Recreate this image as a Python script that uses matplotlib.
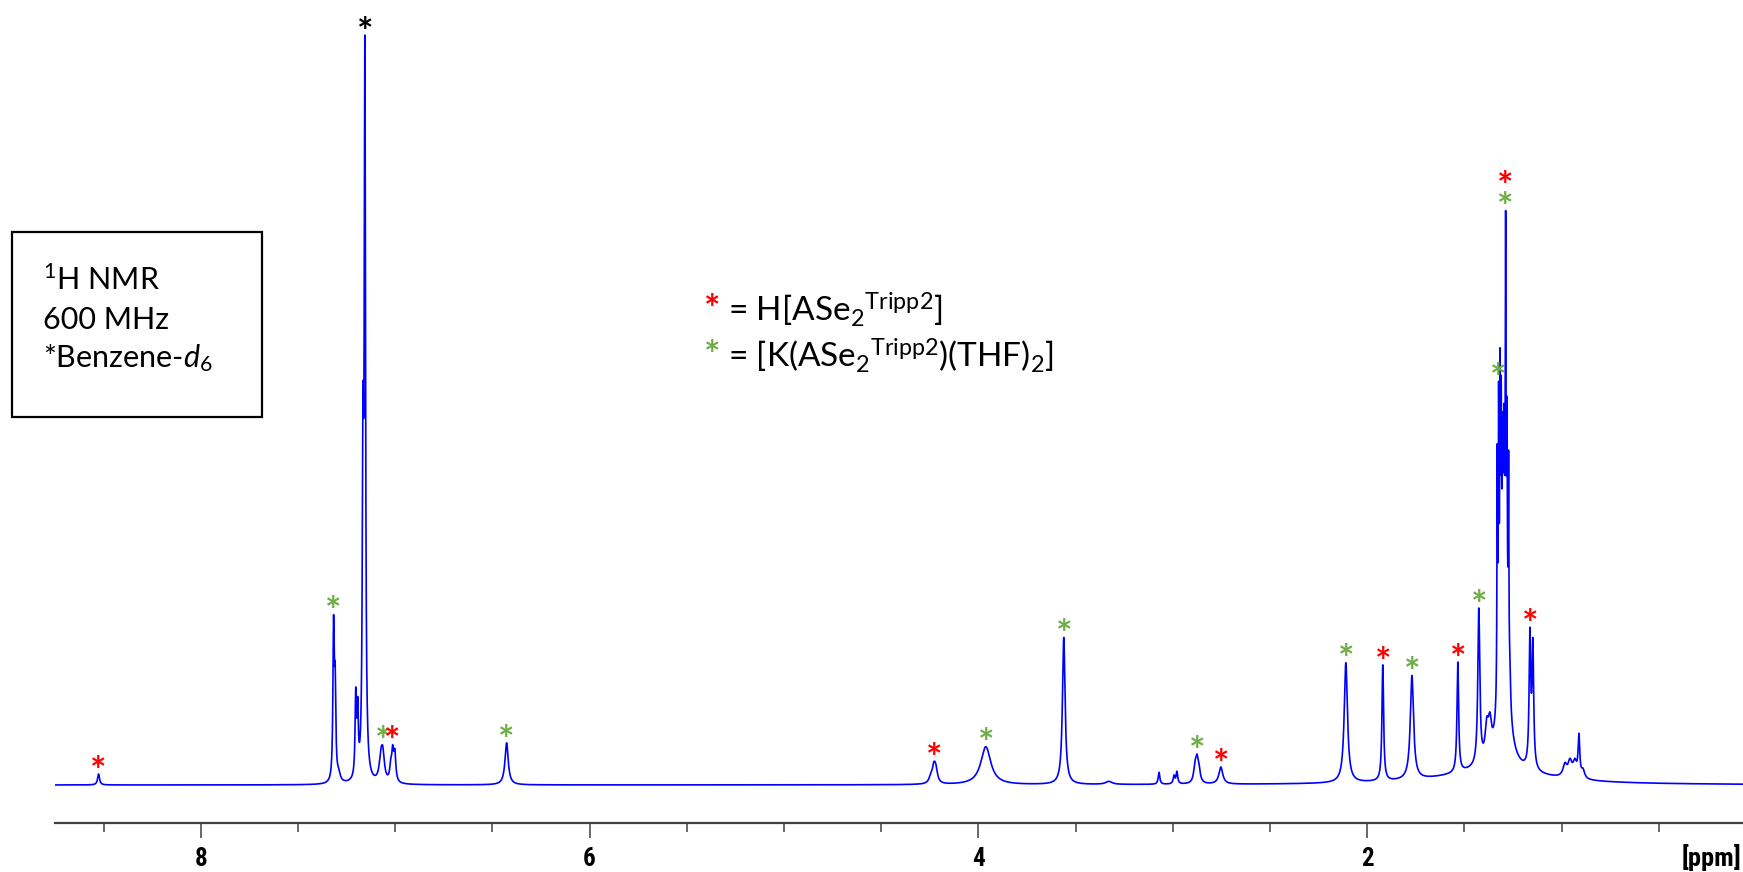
import numpy as np
import matplotlib
import matplotlib.pyplot as plt
from matplotlib import font_manager
from matplotlib.patches import Rectangle

matplotlib.rcParams['font.family'] = ['Lato', 'DejaVu Sans']
matplotlib.rcParams['mathtext.fontset'] = 'custom'
matplotlib.rcParams['mathtext.rm'] = 'Lato'
matplotlib.rcParams['mathtext.it'] = 'Lato:italic'

# resolved lines of the 1H spectrum: shift (ppm), height (a.u.), half width (ppm)
shift = [8.526, 7.317, 7.309, 7.291, 7.203, 7.193, 7.166, 7.156,
         7.074, 7.064, 7.023, 7.013, 7.002, 6.427,
         4.245, 4.229, 4.219, 3.962, 3.561, 3.329,
         3.071, 2.994, 2.979, 2.886, 2.876, 2.866, 2.753,
         2.110, 1.920, 1.770, 1.534, 1.426, 1.385, 1.369,
         1.331, 1.324, 1.317, 1.311, 1.304, 1.297, 1.288, 1.281, 1.273, 1.266,
         1.163, 1.148, 0.983, 0.957, 0.932, 0.911, 0.890,
         1.350, 1.298]
height = [11, 150, 90, 8, 80, 62, 300, 706,
          20, 26, 14, 28, 27, 42,
          6, 15, 12, 38, 147, 3,
          12, 8, 12, 14, 20, 12, 17,
          120, 116, 104, 110, 155, 30, 30,
          235, 260, 255, 190, 115, 108, 353, 200, 206, 30,
          130, 120, 12, 15, 15, 40, 8,
          14, 220]
width = [0.006, 0.004, 0.004, 0.01, 0.004, 0.004, 0.004, 0.004,
         0.01, 0.01, 0.006, 0.006, 0.006, 0.01,
         0.01, 0.01, 0.01, 0.031, 0.008, 0.02,
         0.005, 0.005, 0.005, 0.008, 0.008, 0.008, 0.012,
         0.01, 0.005, 0.01, 0.005, 0.006, 0.01, 0.01,
         0.002, 0.002, 0.002, 0.002, 0.002, 0.002, 0.002, 0.002, 0.002, 0.004,
         0.005, 0.005, 0.012, 0.012, 0.012, 0.005, 0.01,
         0.3, 0.02]

# peak assignments
red_ppm = [8.526, 7.013, 4.229, 2.753, 1.920, 1.534, 1.163, 1.288]
green_ppm = [7.317, 7.064, 6.427, 3.962, 3.561, 2.876, 2.110, 1.770, 1.426, 1.324, 1.288]
solvent_ppm = [7.156]

tick_labels = ['8', '6', '4', '2']

RED = '#FF0000'
GREEN = '#70AD47'
BLUE = '#0000FF'
W, H = 1743, 872

# narrowest bold face on hand for the ppm scale
have = {f.name for f in font_manager.fontManager.ttflist}
NARROW = next((n for n in ['Liberation Sans Narrow', 'DejaVu Sans Condensed',
                           'Roboto Condensed', 'Roboto', 'Liberation Sans']
               if n in have), 'DejaVu Sans')

ppm = np.linspace(8.75, 0.067, 60000)
spec = np.zeros_like(ppm)
for d, h, g in zip(shift, height, width):
    spec += h / (1 + ((ppm - d) / g) ** 2)

fig = plt.figure(figsize=(W / 100, H / 100), dpi=100)
ax = fig.add_axes([55 / W, (H - 823) / H, (W - 55) / W, 823 / H])
ax.plot(ppm, spec, color=BLUE, lw=1.2)
ax.set_xlim(8.75, 0.067)
ax.set_ylim(-38, 785)

for s in ['top', 'left', 'right']:
    ax.spines[s].set_visible(False)
ax.spines['bottom'].set_color('#404040')
ax.spines['bottom'].set_linewidth(1.6)
ax.set_yticks([])
ax.set_xticks([8, 6, 4, 2])
ax.set_xticklabels(tick_labels, fontsize=18, fontweight='bold', family=NARROW,
                   fontstretch='condensed')
ax.set_xticks(np.arange(0.5, 8.6, 0.5), minor=True)
ax.tick_params(axis='x', which='major', length=11, width=1.1, color='#404040', pad=6)
ax.tick_params(axis='x', which='minor', length=6.5, width=1.1, color='#404040')
fig.text(1741 / W, 1 - 858 / H, '[ppm]', ha='right', va='center', fontsize=19,
         fontweight='bold', fontstretch='condensed', family=NARROW)


def peak_top(p):
    m = np.abs(ppm - p) < 0.006
    return spec[m].max()


def star(p, color, lift=0):
    ax.annotate('*', (p, peak_top(p)), xytext=(0, -7 + lift), textcoords='offset points',
                ha='center', va='baseline', color=color, fontsize=28, fontweight='bold',
                annotation_clip=False)


for p in green_ppm:
    star(p, GREEN)
for p in red_ppm:
    star(p, RED, lift=15 if p in green_ppm else 0)
for p in solvent_ppm:
    star(p, 'black')

# info box
fig.add_artist(Rectangle((12 / W, 1 - 417 / H), 250 / W, 185 / H, transform=fig.transFigure,
                         fill=False, lw=1.6, ec='black'))
fig.text(43 / W, 1 - 290 / H, r'$^{1}$H NMR', fontsize=22, va='baseline')
fig.text(43 / W, 1 - 329 / H, '600 MHz', fontsize=22, va='baseline')
fig.text(43 / W, 1 - 367 / H, r'*Benzene-$\mathit{d_6}$', fontsize=22, va='baseline')

# legend
fig.text(720 / W, 1 - 322 / H, '*', color=RED, fontsize=28, fontweight='bold',
         ha='right', va='baseline')
fig.text(728 / W, 1 - 322 / H, r'= H[ASe$_2{}^{\mathrm{Tripp2}}$]', fontsize=24, va='baseline')
fig.text(720 / W, 1 - 368 / H, '*', color=GREEN, fontsize=28, fontweight='bold',
         ha='right', va='baseline')
fig.text(728 / W, 1 - 368 / H, r'= [K(ASe$_2{}^{\mathrm{Tripp2}}$)(THF)$_2$]', fontsize=24,
         va='baseline')

fig.savefig('out.png', dpi=100)
